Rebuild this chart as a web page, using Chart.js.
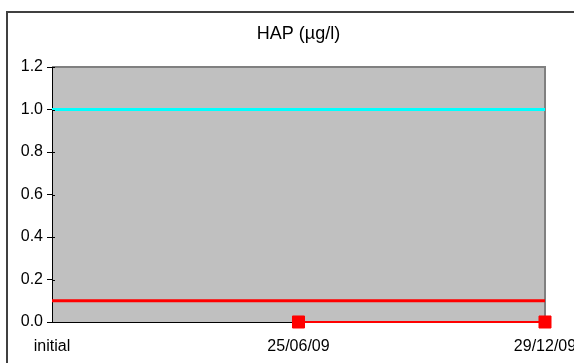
<!DOCTYPE html>
<html>
<head>
<meta charset="utf-8">
<script src="https://cdn.jsdelivr.net/npm/chart.js@4"></script>
<style>
  html, body { margin: 0; padding: 0; background: #ffffff; }
  #wrap { width: 574px; height: 363px; position: relative; }
</style>
</head>
<body>
<div id="wrap"><canvas id="c" width="574" height="363"></canvas></div>
<script>
// Sampling dates
const categories = ['initial', '25/06/09', '29/12/09'];
// Measured HAP concentration (µg/l); no measurement at the initial date
const hapValues = [null, 0, 0];
// Reference thresholds drawn across the whole period
const upperLimit = [1, 1, 1];
const lowerLimit = [0.1, 0.1, 0.1];
// Value axis
const yMin = 0, yMax = 1.2, yStep = 0.2;

const FONT = "'Liberation Sans', Arial, sans-serif";

// Grey plot background, frame around the plot and outer chart border
const framePlugin = {
  id: 'frame',
  afterLayout(chart) {
    // centre the title over the plot area
    if (chart.titleBlock) {
      chart.titleBlock.left = chart.chartArea.left;
      chart.titleBlock.right = chart.chartArea.right;
    }
  },
  beforeDraw(chart) {
    const { ctx, chartArea: a } = chart;
    ctx.save();
    ctx.fillStyle = '#ffffff';
    ctx.fillRect(0, 0, chart.width, chart.height);
    ctx.strokeStyle = '#404040';
    ctx.lineWidth = 2;
    ctx.strokeRect(7, 12, chart.width + 10, chart.height + 10);
    ctx.fillStyle = '#c0c0c0';
    ctx.fillRect(a.left, a.top, a.right - a.left, a.bottom - a.top);
    ctx.strokeStyle = '#808080';
    ctx.lineWidth = 2;
    ctx.beginPath();
    ctx.moveTo(a.left, a.top);
    ctx.lineTo(a.right, a.top);
    ctx.lineTo(a.right, a.bottom);
    ctx.stroke();
    ctx.restore();
  },
  afterDraw(chart) {
    // short inner part of the value-axis tick marks
    const { ctx, chartArea: a, scales } = chart;
    ctx.save();
    ctx.strokeStyle = '#000000';
    ctx.lineWidth = 1;
    scales.y.ticks.forEach(t => {
      const y = Math.round(scales.y.getPixelForValue(t.value)) + 0.5;
      ctx.beginPath();
      ctx.moveTo(a.left, y);
      ctx.lineTo(a.left + 3, y);
      ctx.stroke();
    });
    ctx.restore();
  }
};

new Chart(document.getElementById('c'), {
  type: 'line',
  data: {
    labels: categories,
    datasets: [
      {
        label: 'Limite haute',
        data: upperLimit,
        borderColor: '#00ffff',
        borderWidth: 3,
        pointRadius: 0,
        clip: false
      },
      {
        label: 'Limite basse',
        data: lowerLimit,
        borderColor: '#ff0000',
        borderWidth: 3,
        pointRadius: 0,
        clip: false
      },
      {
        label: 'HAP',
        data: hapValues,
        borderColor: '#ff0000',
        backgroundColor: '#ff0000',
        borderWidth: 2,
        pointStyle: 'rect',
        pointRadius: 8.5,
        pointBorderWidth: 1,
        pointBorderColor: '#ff0000',
        pointBackgroundColor: '#ff0000',
        spanGaps: false,
        clip: false
      }
    ]
  },
  options: {
    responsive: false,
    animation: false,
    events: [],
    layout: { padding: { left: 20, right: 29, top: 0, bottom: 11 } },
    plugins: {
      legend: { display: false },
      tooltip: { enabled: false },
      title: {
        display: true,
        text: 'HAP (µg/l)',
        color: '#000000',
        font: { family: FONT, size: 18, weight: 'normal' },
        padding: { top: 23, bottom: 22.4 }
      }
    },
    scales: {
      x: {
        offset: false,
        afterFit(scale) {
          scale.height = 30;
          scale.paddingLeft = 0;
          scale.paddingRight = 0;
        },
        grid: { display: false, drawTicks: false },
        border: { display: true, color: '#000000', width: 1 },
        ticks: {
          color: '#000000',
          font: { family: FONT, size: 16 },
          padding: 15,
          maxRotation: 0,
          autoSkip: false
        }
      },
      y: {
        min: yMin,
        max: yMax,
        afterFit(scale) { scale.width = 32; },
        grid: { drawOnChartArea: false, drawTicks: true, tickLength: 5, color: '#000000' },
        border: { display: true, color: '#000000', width: 1 },
        ticks: {
          stepSize: yStep,
          color: '#000000',
          font: { family: FONT, size: 16 },
          padding: 4,
          callback: v => Number(v).toFixed(1)
        }
      }
    }
  },
  plugins: [framePlugin]
});
</script>
</body>
</html>
